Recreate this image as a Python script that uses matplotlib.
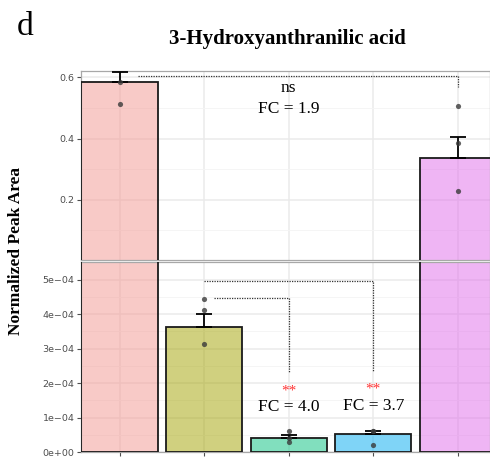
import matplotlib

matplotlib.use("Agg")

import matplotlib.pyplot as plt
from matplotlib.ticker import MultipleLocator

plt.rcParams["font.family"] = ["Liberation Serif", "DejaVu Serif"]

# bar means, upper error (SE) and replicate points
groups = [1, 2, 3, 4, 5]
means = [0.585, 3.62e-4, 0.42e-4, 0.52e-4, 0.337]
errs = [0.032, 0.39e-4, 0.08e-4, 0.10e-4, 0.067]
points = [
    [0.584, 0.512],
    [4.43e-4, 4.12e-4, 3.14e-4],
    [0.60e-4, 0.41e-4, 0.28e-4],
    [0.61e-4, 0.60e-4, 0.21e-4],
    [0.507, 0.384, 0.227],
]
bar_colors = ["#F39791", "#A3A300", "#05C17F", "#01ABF1", "#E16DEB"]

top_ticks = [0.2, 0.4, 0.6]
top_labels = ["0.2", "0.4", "0.6"]
bot_ticks = [0, 1e-4, 2e-4, 3e-4, 4e-4, 5e-4]
bot_labels = ["0e+00", "1e\u221204", "2e\u221204", "3e\u221204", "4e\u221204", "5e\u221204"]

GRID_MAJOR = "#EBEBEB"
GRID_MINOR = "#F4F4F4"
TICK_COL = "#4D4D4D"


def draw_panel(ax, ylim, ticks, labels, minor_step):
    ax.set_facecolor("white")
    ax.set_xlim(0.55, 5.38)
    ax.set_ylim(*ylim)
    ax.set_yticks(ticks)
    ax.set_yticklabels(labels, family="DejaVu Sans", fontsize=6.8, color=TICK_COL)
    ax.yaxis.set_minor_locator(MultipleLocator(minor_step))
    ax.grid(True, which="major", color=GRID_MAJOR, linewidth=1.1)
    ax.grid(True, which="minor", axis="y", color=GRID_MINOR, linewidth=0.6)
    ax.set_axisbelow(True)
    ax.tick_params(axis="y", which="major", length=3, width=0.8, color=TICK_COL, pad=2)
    ax.tick_params(axis="y", which="minor", length=0)
    ax.set_xticks(groups)
    for s in ax.spines.values():
        s.set_color("#A8A8A8")
        s.set_linewidth(0.9)

    # only bars whose top reaches into this panel
    show = [i for i, m in enumerate(means) if m > ylim[0]]
    g = [groups[i] for i in show]
    m = [means[i] for i in show]
    e = [errs[i] for i in show]
    c = [bar_colors[i] for i in show]
    ax.bar(g, m, width=0.9, color=c, alpha=0.5, zorder=2)
    ax.bar(g, m, width=0.9, facecolor="none", edgecolor="#1A1A1A", linewidth=1.3, zorder=3)
    ax.errorbar(g, m, yerr=[[0] * len(e), e], fmt="none",
                ecolor="black", elinewidth=1.3, capsize=6, capthick=1.3, zorder=4)
    for i in show:
        pts = points[i]
        ax.scatter([groups[i]] * len(pts), pts, s=14, color="#3A3A3A", alpha=0.8,
                   zorder=5, linewidths=0)


fig = plt.figure(figsize=(4.9, 4.57), dpi=100)
fig.patch.set_facecolor("white")

ax_top = fig.add_axes([0.1663, 0.431, 0.8337, 0.4142])
ax_bot = fig.add_axes([0.1663, 0.0109, 0.8337, 0.4151])

draw_panel(ax_top, (0.003, 0.6216), top_ticks, top_labels, 0.1)
draw_panel(ax_bot, (0, 5.5e-4), bot_ticks, bot_labels, 0.5e-4)

ax_top.tick_params(axis="x", length=0, labelbottom=False)
ax_bot.tick_params(axis="x", length=3, width=0.8, color=TICK_COL, labelbottom=False)

# significance brackets
dot = dict(color="#333333", linestyle=(0, (1, 1)), linewidth=0.9, zorder=6)
ax_top.plot([1.22, 5.0, 5.0], [0.604, 0.604, 0.569], **dot)
ax_bot.plot([2.0, 4.0, 4.0], [4.97e-4, 4.97e-4, 2.32e-4], **dot)
ax_bot.plot([2.12, 3.0, 3.0], [4.47e-4, 4.47e-4, 2.29e-4], **dot)

ax_top.text(3, 0.564, "ns", ha="center", va="center", fontsize=12.5)
ax_top.text(3, 0.495, "FC = 1.9", ha="center", va="center", fontsize=12.5)
ax_bot.text(3, 1.76e-4, "**", ha="center", va="center", fontsize=11, color="#FF3333")
ax_bot.text(4, 1.82e-4, "**", ha="center", va="center", fontsize=11, color="#FF3333")
ax_bot.text(3, 1.30e-4, "FC = 4.0", ha="center", va="center", fontsize=12.5)
ax_bot.text(4, 1.34e-4, "FC = 3.7", ha="center", va="center", fontsize=12.5)

fig.text(0.035, 1 - 35 / 457, "d", fontsize=24, va="baseline", ha="left")
fig.text(0.586, 1 - 44 / 457, "3-Hydroxyanthranilic acid", fontsize=15,
         fontweight="bold", ha="center", va="baseline")
fig.text(0.033, 0.451, "Normalized Peak Area", fontsize=12.5, fontweight="bold",
         rotation=90, ha="center", va="center")

fig.savefig("out.png", dpi=100, facecolor="white")
